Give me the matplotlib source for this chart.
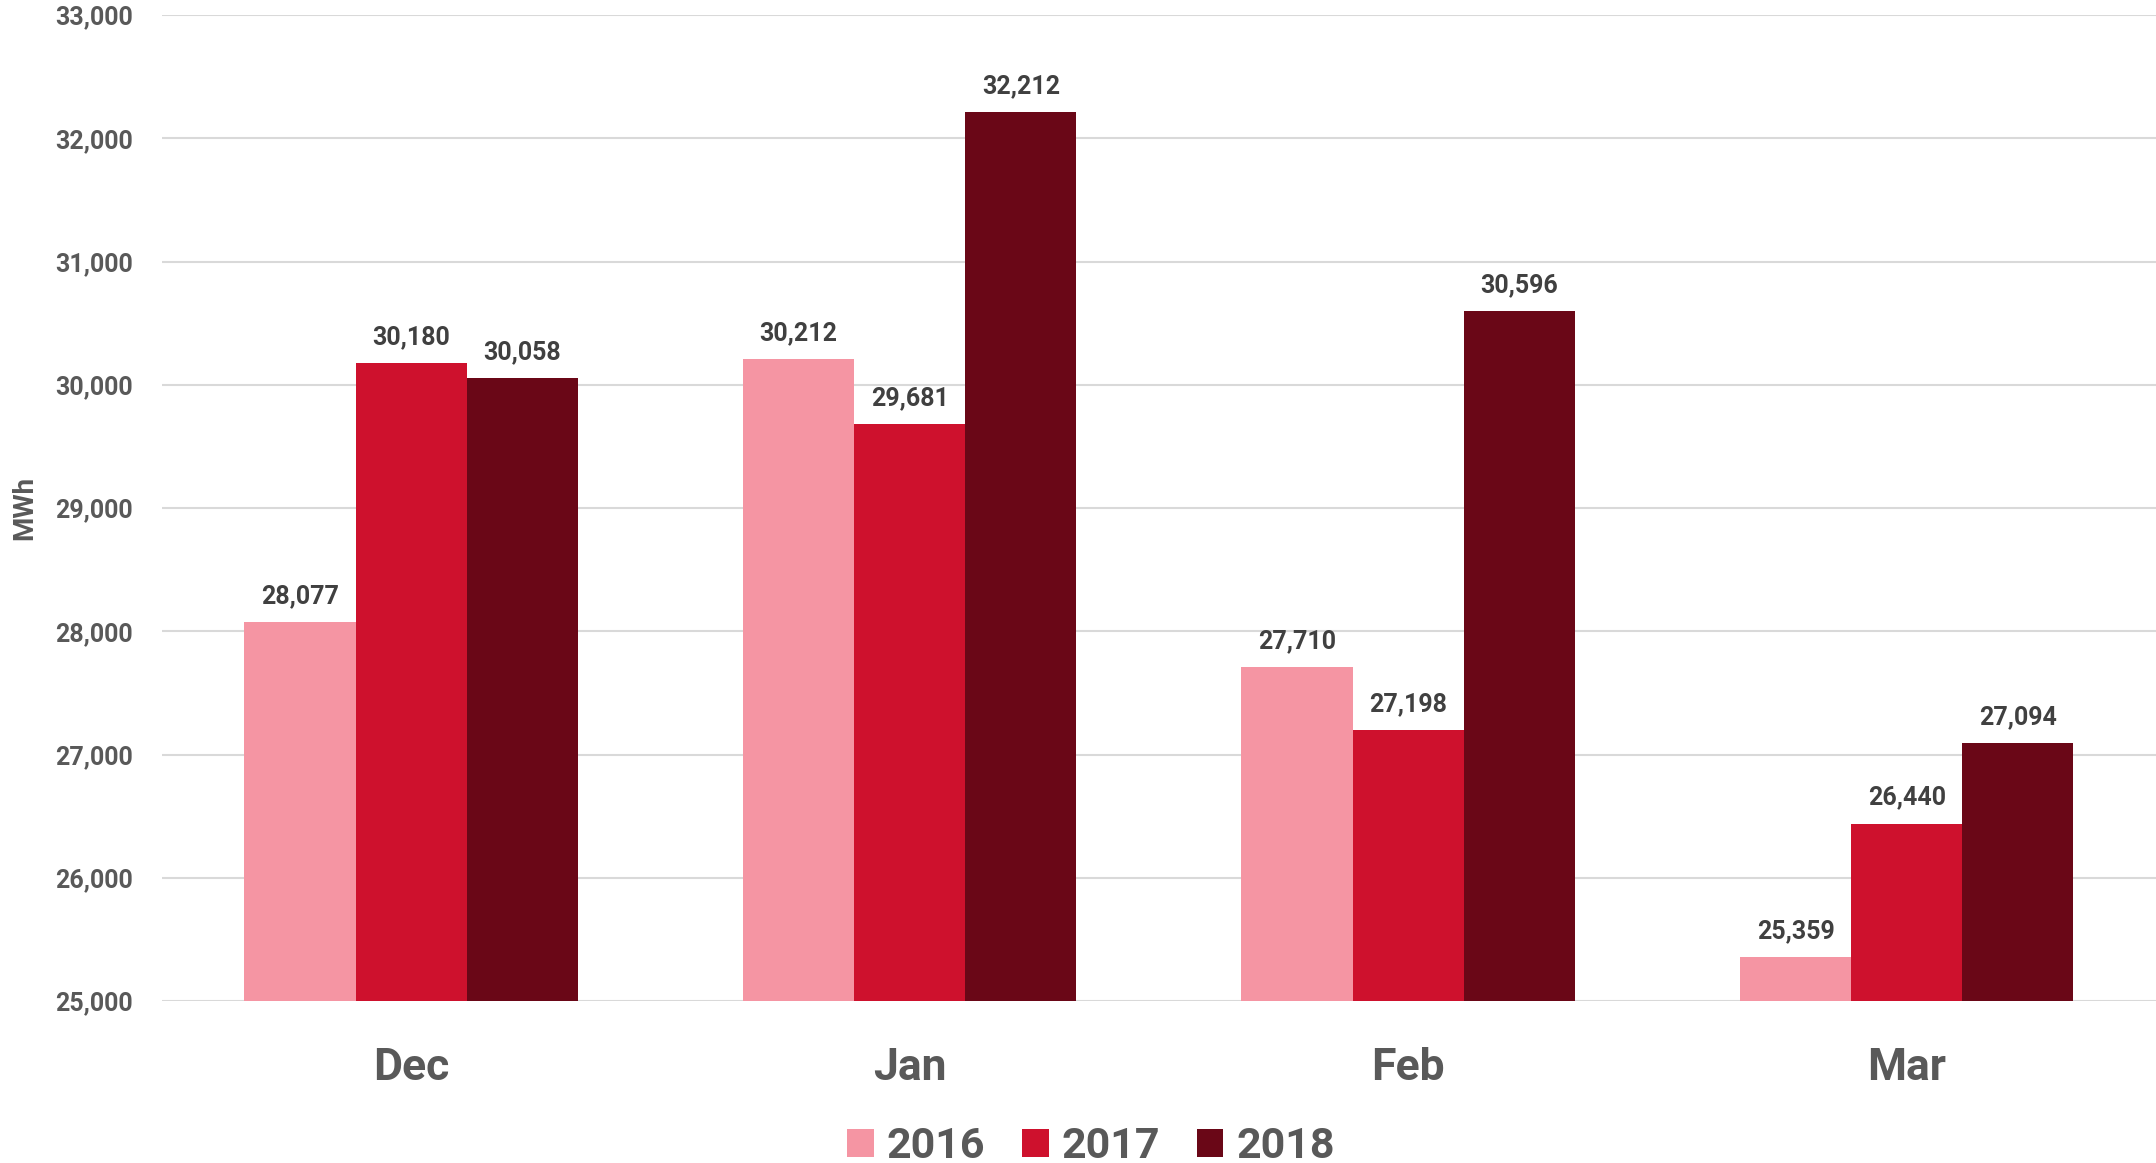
import matplotlib
matplotlib.use("Agg")
import matplotlib.pyplot as plt
import numpy as np
from matplotlib.ticker import FuncFormatter

months = ["Dec", "Jan", "Feb", "Mar"]
years = ["2016", "2017", "2018"]
v2016 = [28077, 30212, 27710, 25359]
v2017 = [30180, 29681, 27198, 26440]
v2018 = [30058, 32212, 30596, 27094]
colors = ["#F595A3", "#CE112D", "#6A0717"]

FAM = ['Roboto', 'DejaVu Sans']
plt.rcParams['font.family'] = FAM
plt.rcParams['font.weight'] = 'bold'

fig = plt.figure(figsize=(21.56, 11.63), dpi=100)
ax = fig.add_axes([0.0751, 0.1393, 0.9249, 0.8477])

x = np.arange(len(months))
w = 0.223
series = [v2016, v2017, v2018]
for i, (vals, c, yr) in enumerate(zip(series, colors, years)):
    pos = x + (i - 1) * w
    ax.bar(pos, np.array(vals) - 25000, bottom=25000, width=w, color=c, label=yr, zorder=3, linewidth=0)
    for p, v in zip(pos, vals):
        ax.annotate(f"{v:,}", (p, v), xytext=(0, 10), textcoords="offset points",
                    ha="center", va="bottom", fontsize=18, fontweight="bold", color="#404040")

ax.set_xlim(-0.5, 3.5)
ax.set_ylim(25000, 33000)
ax.set_yticks(range(25000, 33001, 1000))
ax.yaxis.set_major_formatter(FuncFormatter(lambda v, p: f"{int(v):,}"))
ax.grid(axis="y", color="#D9D9D9", linewidth=1.5, zorder=0)
ax.set_axisbelow(True)
for s in ax.spines.values():
    s.set_visible(False)
ax.tick_params(axis="y", length=0, pad=21, labelsize=18, labelcolor="#595959")
ax.tick_params(axis="x", length=0, pad=33, labelsize=32, labelcolor="#595959")
ax.set_xticks(x)
ax.set_xticklabels(months, fontweight="bold")
for t in ax.get_yticklabels():
    t.set_fontweight("bold")
ax.set_ylabel("MWh", fontsize=20, fontweight="bold", color="#595959", va="center")
ax.yaxis.set_label_coords(-0.0686, 0.5)

fig.legend(loc="center", bbox_to_anchor=(0.506, 0.014), ncol=3, frameon=False,
           handlelength=0.62, handleheight=0.62, handletextpad=0.3,
           columnspacing=0.85, labelcolor="#595959", prop={'family': FAM, 'weight': 'bold', 'size': 31})

fig.savefig("out.png", dpi=100)
